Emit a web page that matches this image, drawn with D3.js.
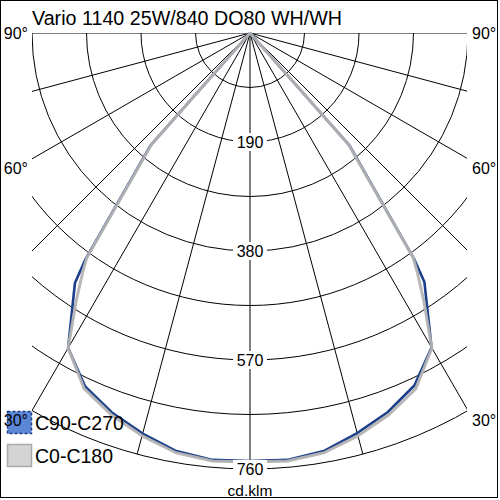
<!DOCTYPE html>
<html><head><meta charset="utf-8">
<script src="https://cdn.jsdelivr.net/npm/d3@7"></script>
<style>body{margin:0;background:#fff}svg{display:block;font-family:"Liberation Sans",Arial,sans-serif}</style>
</head><body><svg id="c" width="500" height="500"></svg>
<script>
const title = "Vario 1140 25W/840 DO80 WH/WH";
const unitLabel = "cd.klm";
const gridValues = [95,190,285,380,475,570,665,760];
const tickValues = [190,380,570,760];
const tickLabels = ["190","380","570","760"];
const spokeAngles = [-90,-75,-60,-45,-30,-15,0,15,30,45,60,75,90];
const angleLabelAngles = [90,60,30];
const angleLabels = ["90°","60°","30°"];
const seriesNames = ["C90-C270","C0-C180"];
// C90-C270 (negative gamma = left half)
const c90Gamma  = [-90,-43,-41.5,-36,-35,-30,-25,-20,-15,-10,-5,0,5,10,15,20,25,30,35,36,41.5,43,90];
const c90Values = [0,0,262,489,532,634,680,704,723,740,747,746,747,740,722,703,678,633,530,486,262,0,0];
// C0-C180
const c0Gamma  = [-90,-43,-41.5,-36,-35,-33,-30,-25,-20,-15,-10,-5,0,5,10,15,20,25,30,33,35,36,41.5,43,90];
const c0Values = [0,0,258,484,508,556,634,684,708,727,743,749,748,749,743,727,708,684,634,556,508,484,258,0,0];

const svg = d3.select("#c");
const cx = 250, cy = 33, R = 436, clipL = 32, clipR = 467;
const r = d3.scaleLinear().domain([0, 760]).range([0, R]);
const rad = g => g * Math.PI / 180;

svg.append("rect").attr("x",0.5).attr("y",0.5).attr("width",497).attr("height",497)
  .attr("fill","#fff").attr("stroke","#000");

svg.append("defs").append("clipPath").attr("id","clipGrid").append("rect")
  .attr("x",clipL).attr("y",cy).attr("width",clipR-clipL).attr("height",500-cy);

const grid = svg.append("g").attr("clip-path","url(#clipGrid)");
grid.selectAll("circle").data(gridValues).join("circle")
  .attr("cx",cx).attr("cy",cy).attr("r",d=>r(d))
  .attr("fill","none").attr("stroke","#000").attr("stroke-width",1);
grid.selectAll("line").data(spokeAngles).join("line")
  .attr("x1",cx).attr("y1",cy)
  .attr("x2",d=>cx + R*Math.sin(rad(d)))
  .attr("y2",d=>cy + R*Math.cos(rad(d)))
  .attr("stroke","#000").attr("stroke-width",1);

const line = d3.lineRadial()
  .angle(d => Math.PI - rad(d[0]))
  .radius(d => r(d[1]));
const plot = svg.append("g").attr("transform",`translate(${cx},${cy})`);
plot.append("path").datum(d3.zip(c90Gamma,c90Values)).attr("d",line)
  .attr("fill","none").attr("stroke","#1b3f8b").attr("stroke-width",2.6).attr("stroke-linejoin","round");
plot.append("path").datum(d3.zip(c0Gamma,c0Values)).attr("d",line)
  .attr("fill","none").attr("stroke","#b3b3b3").attr("stroke-width",3).attr("stroke-linejoin","round").attr("opacity",0.95);

// value labels
const tl = svg.append("g");
tickValues.forEach((v,i)=>{
  const y = cy + r(v);
  tl.append("rect").attr("x",cx-17).attr("y",y-9).attr("width",34).attr("height",18).attr("fill","#fff");
  tl.append("text").attr("x",cx).attr("y",y+6).attr("text-anchor","middle")
    .attr("font-size",16).text(tickLabels[i]);
});

// legend swatches
svg.append("rect").attr("x",7.5).attr("y",411.5).attr("width",24).attr("height",22)
  .attr("fill","#5b87d6").attr("stroke","#1b3f8b").attr("stroke-width",1.5).attr("stroke-dasharray","3,2");
svg.append("rect").attr("x",7.5).attr("y",444.5).attr("width",24).attr("height",22)
  .attr("fill","#d4d4d4").attr("stroke","#a9a9a9").attr("stroke-width",1.5);

// angle labels
angleLabelAngles.forEach((a,i)=>{
  const tL = (cx-clipL)/Math.sin(rad(a));
  const yEdge = cy + tL*Math.cos(rad(a));
  const dy = a===90 ? 6 : 15;
  svg.append("text").attr("x",28).attr("y",yEdge+dy).attr("text-anchor","end")
    .attr("font-size",16).text(angleLabels[i]);
  svg.append("text").attr("x",472).attr("y",yEdge+dy).attr("text-anchor","start")
    .attr("font-size",16).text(angleLabels[i]);
});

svg.append("text").attr("x",35).attr("y",430).attr("font-size",19.5).text(seriesNames[0]);
svg.append("text").attr("x",35).attr("y",463).attr("font-size",19.5).text(seriesNames[1]);

svg.append("text").attr("x",32).attr("y",25).attr("font-size",19.7).text(title);
svg.append("text").attr("x",cx).attr("y",496).attr("text-anchor","middle").attr("font-size",15.5).text(unitLabel);
</script></body></html>
